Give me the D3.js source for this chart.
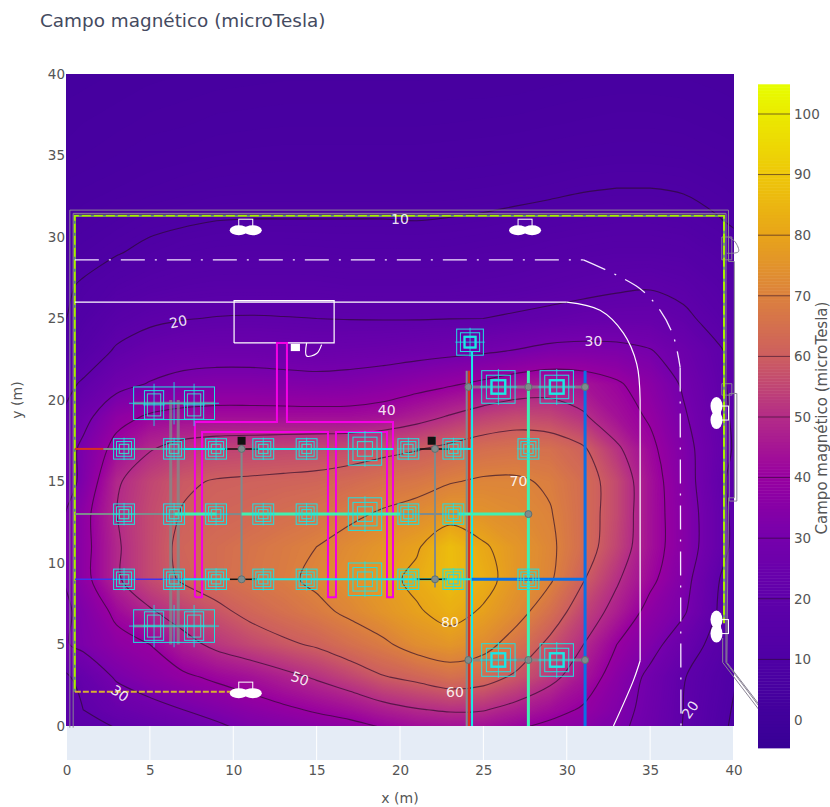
<!DOCTYPE html>
<html>
<head>
<meta charset="utf-8">
<script src="https://cdn.jsdelivr.net/npm/d3@7"></script>
<style>
  html, body { margin: 0; background: #fff; }
  text { font-family: "DejaVu Sans", sans-serif; }
  .tick text { fill: #555; font-size: 13.5px; }
  .wall { fill: none; stroke: #8a8494; stroke-width: 1; }
  .green { fill: none; stroke: #a6f000; stroke-width: 2; }
  .greenDash { fill: none; stroke: #3050c0; stroke-width: 1; stroke-dasharray: 3 9; }
  .fence { fill: none; stroke: #d8b030; stroke-width: 2; stroke-dasharray: 6 2; }
  .white { fill: none; stroke: #fff; stroke-width: 1.2; }
  .whiteDash { fill: none; stroke: #f4e8ff; stroke-width: 1.3; stroke-dasharray: 24 10 2 10; }
  .magenta { fill: none; stroke: #f400e4; stroke-width: 2; }
  .gray { fill: none; stroke: #808a8c; stroke-width: 2; }
  .grayWide { fill: none; stroke: #7f8c8c; stroke-width: 3; opacity: .75; }
  .cyan { fill: none; stroke: #18e8e8; stroke-width: 2; }
  .mint { fill: none; stroke: #40f0b0; stroke-width: 3; }
  .blue { fill: none; stroke: #0a70e8; stroke-width: 3; }
  .red { fill: none; stroke: #d83020; stroke-width: 2; }
  .violet { fill: none; stroke: #4030f0; stroke-width: 1.5; }
  .black { fill: none; stroke: #111; stroke-width: 1.5; }
</style>
</head>
<body>
<svg id="chart" width="830" height="807"></svg>
<script>
// field grid, cell centres every 2 m
var xCentres = d3.range(1, 40, 2);
var yCentres = d3.range(39, 0, -2);
var z39 = [4, 4.3, 4.6, 4.8, 5, 5.1, 5.2, 5.2, 5.2, 5.2, 5.2, 5.3, 5.3, 5.4, 5.6, 5.8, 5.9, 5.9, 5.8, 5.5];
var z37 = [4.5, 4.8, 5.2, 5.4, 5.7, 5.8, 5.9, 5.9, 5.9, 5.9, 5.9, 6, 6.1, 6.2, 6.4, 6.6, 6.8, 6.8, 6.6, 6.2];
var z35 = [5, 5.5, 6, 6.2, 6.5, 6.7, 6.8, 6.8, 6.8, 6.8, 6.8, 6.9, 7, 7.2, 7.5, 7.8, 8, 8, 7.8, 7.2];
var z33 = [6, 6.5, 7, 7.5, 8, 8.2, 8.2, 8.2, 8.2, 8.2, 8.2, 8.3, 8.5, 8.8, 9.2, 9.7, 10, 10, 9.6, 8.7];
var z31 = [7, 8, 9, 9.5, 10, 10.1, 10.1, 10.1, 10.1, 10.1, 10, 10.2, 10.5, 11, 11.5, 12, 12.3, 12.3, 11.8, 10.3];
var z29 = [8.5, 9.8, 11, 12, 12.5, 12.7, 12.7, 12.5, 12.3, 12.3, 12.3, 12.5, 13, 13.3, 14, 14.5, 15, 15, 14.5, 12.7];
var z27 = [10.5, 12.5, 14, 15, 15.5, 15.5, 15.5, 15.5, 15, 15, 15, 15, 15.5, 16, 17, 18, 19, 19.5, 18, 15];
var z25 = [12, 16, 18.5, 19.7, 20.3, 20.5, 20.3, 20, 19.8, 19.7, 19.7, 19.9, 20, 21, 22, 23, 23.5, 23.5, 21.5, 17.5];
var z23 = [15, 21, 24, 25.5, 26, 26, 25.5, 25, 25.5, 26, 27, 28, 29, 30.5, 32.5, 33, 32.5, 30.5, 26, 21];
var z21 = [21, 27, 30.5, 33, 34, 34, 33.5, 33, 33.5, 35, 37, 39, 41.5, 44.5, 46, 44.5, 41, 36, 29, 22];
var z19 = [27, 37, 41, 42.5, 43, 43, 43, 43, 43, 44, 47, 50.5, 54, 56, 55, 51, 44, 39, 31, 23];
var z17 = [32, 43, 49.5, 53, 54.5, 55, 55.5, 56, 56.5, 58, 59.5, 62, 64.5, 65.5, 65, 61, 51.5, 42, 33, 24];
var z15 = [33, 49, 55, 59, 60.5, 61, 61.5, 62, 63.5, 65.5, 67, 69.5, 71, 71, 69, 64, 56, 44, 34, 23];
var z13 = [37, 50, 56, 60.5, 62, 63, 64.5, 66, 68.5, 71, 73, 76.5, 75, 73, 70.5, 64, 56, 44, 35, 24];
var z11 = [37, 49, 56, 62, 64, 66, 68, 70, 73, 76, 79, 87, 81, 76, 71.5, 64, 55, 44, 35, 24];
var z09 = [37, 49, 56, 61, 64, 66.5, 68.5, 71.5, 74.5, 77.5, 82, 87, 83, 76, 71, 60.5, 51, 42, 33, 21];
var z07 = [33, 42, 49, 54, 58, 62, 65, 68, 71.5, 75.5, 79, 83, 79, 73, 65, 55, 47, 37, 31, 20];
var z05 = [32, 37, 40, 47, 52, 55.5, 58.5, 61, 65, 68.5, 73.5, 76, 73, 66, 58, 50, 40, 33, 25, 17];
var z03 = [23, 31, 35, 38.5, 41.5, 44, 47.5, 51, 55, 59.5, 62, 65, 63.5, 58.5, 52.5, 45, 36, 28, 20.5, 14];
var z01 = [20, 24, 27, 30, 33, 36, 38.5, 41, 43.5, 47, 49.5, 51, 50.5, 47, 43, 39, 33.5, 27, 20, 13];
var zRows = [z39, z37, z35, z33, z31, z29, z27, z25, z23, z21, z19, z17, z15, z13, z11, z09, z07, z05, z03, z01];

var contourLevels = d3.range(10, 90, 10);
var axisTicks = d3.range(0, 45, 5);
var barTicks = d3.range(0, 110, 10);
var colourValues = [-5, 0, 10, 20, 30, 40, 50, 60, 70, 80, 90, 100, 105];
var colourStops = ["#370096", "#40009b", "#4f00a5", "#5f00aa", "#7600ac", "#9800a0", "#b42d87", "#cd5f5f", "#dc823c", "#e8a519", "#eec808", "#ebeb00", "#e6ff00"];

// contour labels: text, x, y, angle
var labelText = ["10", "20", "30", "40", "50", "60", "70", "80", "30", "20"];
var labelX = [20, 6.7, 31.6, 19.2, 14, 23.3, 27.1, 23, 3.2, 37.4];
var labelY = [31.1, 24.8, 23.6, 19.4, 2.9, 2.1, 15, 6.4, 2, 1];
var labelAngle = [0, -12, 0, 0, 20, 0, 0, 0, 35, -55];

// site plan, metres
var wallOuter = [[0.2, -0.1], [0.2, 31.65], [39.7, 31.65], [39.7, 28.5], [40.05, 28.5], [40.05, 14], [39.7, 14], [39.6, 3.9], [42.6, -0.1]];
var wallInner = [[0.4, -0.1], [0.4, 31.45], [39.55, 31.45], [39.55, 3.9], [42.5, -0.1]];
var wallSlant = [[39.35, 5.4], [39.35, 3.9], [42.35, -0.1]];
var gateBox1 = [[39.3, 28.6], [39.9, 28.6], [39.9, 30], [39.3, 30], [39.3, 28.6]];
var gateBox2 = [[39.3, 20.3], [39.9, 20.3], [39.9, 21], [39.3, 21], [39.3, 20.3]];
var sideBox = [[39.75, 13.8], [40.2, 13.8], [40.2, 20.4], [39.75, 20.4], [39.75, 13.8]];
var gateArc = [[39.7, 30], [40.1, 29.7], [40.3, 29.1], [39.6, 29]];
var greenWall = [[0.5, 2.1], [0.5, 31.3], [39.43, 31.3], [39.43, 6.3]];
var fenceLine = [[0.5, 2.1], [11, 2.1]];
var kerbOuterTop = [[0.5, 28.6], [31, 28.6]];
var kerbOuterBend = [[31, 28.6], [34.3, 26.9], [35.6, 25.5], [36.4, 23.9], [36.8, 22]];
var kerbOuterDown = [[36.8, 22], [36.85, 0]];
var kerbInnerTop = [[0.5, 26], [30, 26]];
var kerbInnerBend = [[30, 26], [32, 25.5], [33.4, 24.1], [34.2, 22.2], [34.4, 20]];
var kerbInnerDown = [[34.4, 20], [34.4, 4]];
var kerbInnerEnd = [[34.4, 4], [34, 2.8], [32.8, 0]];
var building = [[10.05, 23.5], [16.05, 23.5], [16.05, 26.1], [10.05, 26.1], [10.05, 23.5]];
var doorArc = [[14.4, 23.5], [14.4, 22.7], [15, 22.85], [15.3, 23.4]];
var cableDuct = [[7.7, 7.9], [7.7, 18.65], [12.62, 18.65], [12.62, 23.5], [13.22, 23.5], [13.22, 18.65], [19.58, 18.65], [19.58, 7.9], [19.22, 7.9], [19.22, 18.04], [16.16, 18.04], [16.16, 7.9], [15.68, 7.9], [15.68, 18.04], [8.13, 18.04], [8.13, 7.9], [7.7, 7.9]];

var redRuns = [[[0.5, 17], [2.2, 17]], [[24.14, 21.8], [24.14, 0]]];
var grayRuns = [[[2.2, 17], [7, 17]], [[0.5, 13], [6.5, 13]], [[9, 13], [10.5, 13]], [[20, 13], [23.5, 13]], [[24, 21.8], [24, 0]], [[10.5, 17.4], [10.5, 9]], [[22.1, 17.8], [22.1, 8.5]]];
var grayWideRuns = [[[6.25, 20], [6.25, 5]], [[6.7, 20], [6.7, 5]], [[24, 20.8], [31.2, 20.8]], [[24, 4.05], [31.2, 4.05]], [[4, 19.8], [8.9, 19.8]], [[4, 6.13], [8.9, 6.13]]];
var cyanRuns = [[[7, 17], [9.6, 17]], [[11.5, 17], [19.6, 17]], [[23, 17], [24.3, 17]], [[7, 9], [9.8, 9]], [[11.4, 9], [24.3, 9]], [[24.32, 23], [24.32, 0]]];
var mintRuns = [[[6.5, 13], [9, 13]], [[10.5, 13], [20, 13]], [[23.5, 13], [27.7, 13]], [[27.7, 21.8], [27.7, 0]]];
var blueRuns = [[[24.3, 9], [31.1, 9]], [[31.1, 21.8], [31.1, 0]]];
var violetRuns = [[[0.5, 9], [8, 9]]];
var blackRuns = [[[9.5, 17], [11.5, 17]], [[21, 17], [23, 17]], [[9.8, 9], [11.4, 9]], [[21, 9], [22.8, 9]]];

var footingX = [3.45, 6.45, 8.97, 11.8, 14.4, 17.9, 20.5, 23.2];
var footingY = [17, 13, 9];
var extraFootingX = [27.7, 27.7];
var extraFootingY = [17, 9];
var largeX = [25.9, 29.4, 25.9, 29.4, 24.2];
var largeY = [20.8, 20.8, 4.05, 4.05, 23.55];
var largeSize = [2, 2, 2, 2, 1.6];
var twinX = [5.25, 7.65, 5.25, 7.65];
var twinY = [19.7, 19.7, 6.13, 6.13];
var twinBoxY = [19.8, 6.13];
var nodeX = [24.1, 27.7, 31.1, 24.1, 27.7, 31.1, 10.5, 22.1, 10.5, 22.1, 27.7];
var nodeY = [20.8, 20.8, 20.8, 4.05, 4.05, 4.05, 17, 17, 9, 9, 13];
var towerX = [10.5, 21.9];
var towerY = 17.5;
var treeX = [10.75, 27.5, 10.75, 39.1, 39.1];
var treeY = [30.6, 30.6, 2.2, 19.2, 6.1];

var svg = d3.select("#chart");

var x = d3.scaleLinear().domain([0, 40]).range([66.5, 733.5]);
var y = d3.scaleLinear().domain([0, 40]).range([726, 74]);
var colour = d3.scaleLinear().domain(colourValues).range(colourStops);
var barY = d3.scaleLinear().domain([0, 100]).range([720, 114]);

svg.append("text")
  .attr("x", 40).attr("y", 27)
  .attr("font-size", 18.4)
  .attr("fill", "#444a60")
  .text("Campo magnético (microTesla)");

// pale plot background under y = 0
svg.append("rect")
  .attr("x", x(0)).attr("y", y(0))
  .attr("width", x(40) - x(0)).attr("height", 34)
  .attr("fill", "#e5ecf6");
svg.append("g").selectAll("line")
  .data(axisTicks)
  .enter().append("line")
  .attr("x1", function(d) { return x(d); })
  .attr("x2", function(d) { return x(d); })
  .attr("y1", y(0)).attr("y2", y(0) + 34)
  .attr("stroke", "#fff").attr("stroke-width", 1);

// heatmap as very fine filled contours; one extra ring of cells continues
// the edge slope so the contour outlines close outside the clip
var nx = xCentres.length, ny = yCentres.length;
var cellW = 40 / nx, cellH = 40 / ny;
function pad(row) {
  var n = row.length;
  return [2 * row[0] - row[1]].concat(row, [2 * row[n - 1] - row[n - 2]]);
}
var paddedCols = zRows.map(pad);
var paddedRows = [paddedCols[0].map(function(v, i) { return 2 * v - paddedCols[1][i]; })]
  .concat(paddedCols, [paddedCols[ny - 1].map(function(v, i) { return 2 * v - paddedCols[ny - 2][i]; })]);
var flat = d3.merge(paddedRows);
var toScreen = d3.geoTransform({
  point: function(cx, cy) {
    this.stream.point(x((cx - 1) * cellW), y(40 - (cy - 1) * cellH));
  }
});
var path = d3.geoPath(toScreen);

svg.append("defs").append("clipPath").attr("id", "plotClip")
  .append("rect")
  .attr("x", x(0)).attr("y", y(40))
  .attr("width", x(40) - x(0)).attr("height", y(0) - y(40));

var plot = svg.append("g").attr("clip-path", "url(#plotClip)");
plot.append("rect")
  .attr("x", x(0)).attr("y", y(40))
  .attr("width", x(40) - x(0)).attr("height", y(0) - y(40))
  .attr("fill", colour(3));
plot.selectAll("path.band")
  .data(d3.contours().size([nx + 2, ny + 2]).thresholds(d3.range(-5, 105, 0.5))(flat))
  .enter().append("path")
  .attr("class", "band")
  .attr("d", path)
  .attr("fill", function(d) { return colour(d.value); });

// contour lines, smoothed, with the parts running along the edge dropped
var contourLine = d3.line()
  .x(function(p) { return x((p[0] - 1) * cellW); })
  .y(function(p) { return y(40 - (p[1] - 1) * cellH); })
  .curve(d3.curveCatmullRom.alpha(0.5));

function openSegments(ring) {
  var segs = [], cur = [];
  ring.forEach(function(p) {
    var edge = p[0] <= 0 || p[0] >= nx + 2 || p[1] <= 0 || p[1] >= ny + 2;
    if (edge) {
      if (cur.length > 1) segs.push(cur);
      cur = [];
    } else {
      cur.push(p);
    }
  });
  if (cur.length > 1) segs.push(cur);
  return segs;
}

d3.contours().size([nx + 2, ny + 2]).thresholds(contourLevels)(flat).forEach(function(level) {
  level.coordinates.forEach(function(poly) {
    poly.forEach(function(ring) {
      openSegments(ring).forEach(function(seg) {
        plot.append("path")
          .attr("d", contourLine(seg))
          .attr("fill", "none")
          .attr("stroke", "#2a0a2a")
          .attr("stroke-opacity", 0.65)
          .attr("stroke-width", 1.1);
      });
    });
  });
});

// site plan on top
var plan = svg.append("g");
var straight = d3.line().x(function(p) { return x(p[0]); }).y(function(p) { return y(p[1]); });
var rounded = d3.line().x(function(p) { return x(p[0]); }).y(function(p) { return y(p[1]); }).curve(d3.curveCatmullRom.alpha(0.5));

function drawRun(points, cls, gen) {
  return plan.append("path").attr("d", (gen || straight)(points)).attr("class", cls).attr("fill", "none");
}
function drawRuns(list, cls) {
  list.forEach(function(r) { drawRun(r, cls); });
}
function drawBox(cx, cy, w, h, col, sw) {
  plan.append("rect")
    .attr("x", x(cx - w / 2)).attr("y", y(cy + h / 2))
    .attr("width", x(w) - x(0)).attr("height", y(0) - y(h))
    .attr("fill", "none").attr("stroke", col).attr("stroke-width", sw);
}
function drawCross(cx, cy, w, h) {
  drawRun([[cx - w / 2, cy], [cx + w / 2, cy]], "crossLine").attr("stroke", "#18e8e8").attr("stroke-width", 0.8);
  drawRun([[cx, cy - h / 2], [cx, cy + h / 2]], "crossLine").attr("stroke", "#18e8e8").attr("stroke-width", 0.8);
}
function drawFooting(cx, cy, size) {
  drawBox(cx, cy, size, size, "#20e0e0", 1);
  drawBox(cx, cy, size * 0.72, size * 0.72, "#20e0e0", 1);
  drawBox(cx, cy, size * 0.45, size * 0.45, "#40d0c8", 1.2);
  drawCross(cx, cy, size * 1.1, size * 1.1);
}

drawRun(wallOuter, "wall");
drawRun(wallInner, "wall");
drawRun(wallSlant, "wall");
drawRun(gateBox1, "wall");
drawRun(gateBox2, "wall");
drawRun(sideBox, "wall");
drawRun(gateArc, "wall", rounded);
drawRun(greenWall, "green");
drawRun(greenWall, "greenDash");
drawRun(fenceLine, "fence");
drawRun(kerbOuterTop, "whiteDash");
drawRun(kerbOuterBend, "whiteDash", rounded);
drawRun(kerbOuterDown, "whiteDash");
drawRun(kerbInnerTop, "white");
drawRun(kerbInnerBend, "white", rounded);
drawRun(kerbInnerDown, "white");
drawRun(kerbInnerEnd, "white", rounded);

drawRun(building, "white").attr("stroke-width", 2);
drawRun(building.slice(2, 4), "white").attr("stroke-width", 3);
drawRun(doorArc, "white", rounded);
plan.append("rect")
  .attr("x", x(13.45)).attr("y", y(23.45))
  .attr("width", x(14) - x(13.45)).attr("height", y(23) - y(23.45))
  .attr("fill", "#fff");

drawRun(cableDuct, "magenta");

drawRuns(grayWideRuns, "grayWide");
drawRuns(grayRuns, "gray");
drawRuns(violetRuns, "violet");
drawRuns(redRuns, "red");
drawRuns(cyanRuns, "cyan");
drawRuns(mintRuns, "mint");
drawRuns(blueRuns, "blue");
drawRuns(blackRuns, "black");

footingY.forEach(function(fy) {
  footingX.forEach(function(fx, i) {
    drawFooting(fx, fy, i === 5 ? 2 : 1.25);
  });
});
extraFootingX.forEach(function(fx, i) {
  drawFooting(fx, extraFootingY[i], 1.25);
});
largeX.forEach(function(fx, i) {
  drawFooting(fx, largeY[i], largeSize[i]);
  drawBox(fx, largeY[i], largeSize[i] * 0.4, largeSize[i] * 0.4, "#18e8e8", 2);
});
twinBoxY.forEach(function(by) {
  drawBox(6.45, by, 4.85, 2, "#20e0e0", 1);
  drawCross(6.45, by, 5.4, 2.6);
});
twinX.forEach(function(fx, i) {
  drawBox(fx, twinY[i], 1.15, 1.75, "#20e0e0", 1);
  drawBox(fx, twinY[i], 0.8, 1.35, "#40d0c8", 1);
  drawCross(fx, twinY[i], 1.3, 2.6);
});

plan.selectAll("circle.node")
  .data(nodeX)
  .enter().append("circle")
  .attr("class", "node")
  .attr("cx", function(d) { return x(d); })
  .attr("cy", function(d, i) { return y(nodeY[i]); })
  .attr("r", 3.5)
  .attr("fill", "#7f8c8c")
  .attr("stroke", "#5f7070");

towerX.forEach(function(tx) {
  plan.append("rect")
    .attr("x", x(tx) - 4).attr("y", y(towerY) - 4)
    .attr("width", 8).attr("height", 8)
    .attr("fill", "#111");
});

// floodlight masts, white blobs
treeX.forEach(function(tx, i) {
  var g = plan.append("g").attr("transform", "translate(" + x(tx) + "," + y(treeY[i]) + ")");
  var side = i > 2;
  var rx = side ? 6 : 9, ry = side ? 9 : 5;
  g.append("ellipse").attr("cx", side ? -2 : -7).attr("cy", side ? -7 : 3).attr("rx", rx).attr("ry", ry).attr("fill", "#fff");
  g.append("ellipse").attr("cx", side ? -2 : 7).attr("cy", side ? 7 : 3).attr("rx", rx).attr("ry", ry).attr("fill", "#fff");
  g.append("rect")
    .attr("x", side ? 2 : -7).attr("y", side ? -7 : -8)
    .attr("width", side ? 8 : 14).attr("height", side ? 14 : 8)
    .attr("fill", "none").attr("stroke", "#fff").attr("stroke-width", 1);
});

// contour labels
svg.append("g").selectAll("text")
  .data(labelText)
  .enter().append("text")
  .attr("transform", function(d, i) {
    return "translate(" + x(labelX[i]) + "," + y(labelY[i]) + ") rotate(" + labelAngle[i] + ")";
  })
  .attr("text-anchor", "middle")
  .attr("dy", "0.35em")
  .attr("font-size", 14)
  .attr("fill", "#fff")
  .attr("fill-opacity", 0.9)
  .text(function(d) { return d; });

// axes
var xAxis = svg.append("g")
  .attr("transform", "translate(0,760)")
  .call(d3.axisBottom(x).tickValues(axisTicks).tickSize(0).tickPadding(5));
xAxis.select(".domain").remove();
var yAxis = svg.append("g")
  .attr("transform", "translate(66,0)")
  .call(d3.axisLeft(y).tickValues(axisTicks).tickSize(0).tickPadding(1));
yAxis.select(".domain").remove();

svg.append("text")
  .attr("x", 400).attr("y", 803)
  .attr("text-anchor", "middle")
  .attr("font-size", 14).attr("fill", "#555")
  .text("x (m)");
svg.append("text")
  .attr("transform", "translate(22,400) rotate(-90)")
  .attr("text-anchor", "middle")
  .attr("font-size", 14).attr("fill", "#555")
  .text("y (m)");

// colour bar
var barValues = d3.range(-4.6, 104.6, 0.5);
svg.append("g").selectAll("rect")
  .data(barValues)
  .enter().append("rect")
  .attr("x", 758).attr("width", 32)
  .attr("y", function(d) { return barY(d + 0.5); })
  .attr("height", function(d) { return barY(d) - barY(d + 0.5) + 0.5; })
  .attr("fill", function(d) { return colour(d); });
svg.append("g").selectAll("line")
  .data(barTicks.slice(1))
  .enter().append("line")
  .attr("x1", 758).attr("x2", 790)
  .attr("y1", function(d) { return barY(d); })
  .attr("y2", function(d) { return barY(d); })
  .attr("stroke", "#2a0a2a").attr("stroke-opacity", 0.6);
var barAxis = svg.append("g")
  .attr("transform", "translate(790,0)")
  .call(d3.axisRight(barY).tickValues(barTicks).tickSize(0).tickPadding(4));
barAxis.select(".domain").remove();

svg.append("text")
  .attr("transform", "translate(827,418) rotate(-90)")
  .attr("text-anchor", "middle")
  .attr("font-size", 15).attr("fill", "#555")
  .text("Campo magnético (microTesla)");
</script>
</body>
</html>
